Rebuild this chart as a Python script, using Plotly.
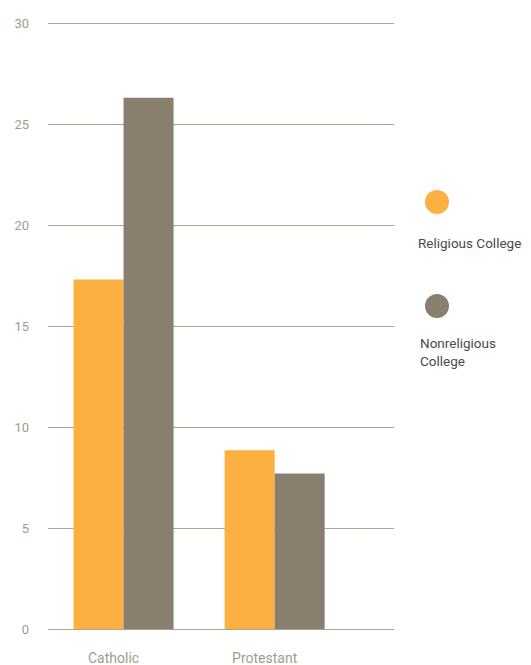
import plotly.graph_objects as go

categories = ["Catholic", "Protestant"]
religious = [17.3, 8.85]
nonreligious = [26.3, 7.7]
y_ticks = [0, 5, 10, 15, 20, 25, 30]

ORANGE = "#FBB040"
GRAY = "#887F6E"
TICK = "#A39B8E"
GRID = "#ABA394"
TEXT = "#4A4A4A"
FONT = "Roboto, Open Sans, sans-serif"

# page has an 8px body margin: figure starts at (8, 8)
OFF = 8
W, H = 531 - OFF, 665 - OFF
PLOT_L, PLOT_R = 48, 394          # page px
Y0_PX, Y30_PX = 629, 23           # page px of y=0 and y=30
YMAX = 30.5
per = (Y0_PX - Y30_PX) / 30.0
PLOT_T = Y0_PX - YMAX * per

fig = go.Figure()
fig.add_trace(go.Bar(x=categories, y=religious, name="Religious College",
                     marker=dict(color=ORANGE, line=dict(width=0))))
fig.add_trace(go.Bar(x=categories, y=nonreligious, name="Nonreligious College",
                     marker=dict(color=GRAY, line=dict(width=0))))

fig.update_layout(
    width=W, height=H,
    margin=dict(l=PLOT_L - OFF, r=531 - PLOT_R, t=PLOT_T - OFF, b=665 - Y0_PX, autoexpand=False),
    paper_bgcolor="white", plot_bgcolor="white",
    barmode="group", bargap=0.338, bargroupgap=0,
    showlegend=False,
    font=dict(family=FONT, size=13, color=TICK),
)
fig.update_xaxes(range=[-0.5, 1.79], showgrid=False, zeroline=False, showline=False,
                 automargin=False, ticks="", tickfont=dict(size=14, color=TICK),
                 ticklabelstandoff=19, ticklabelshift=-10)
fig.update_yaxes(range=[0, YMAX], tickvals=y_ticks, showgrid=True, gridcolor=GRID, gridwidth=1,
                 zeroline=True, zerolinecolor=GRID, zerolinewidth=1, showline=False,
                 automargin=False, ticks="", tickfont=dict(size=13, color=TICK),
                 ticklabelstandoff=18)

# Legend as shapes + annotations (page pixel positions)
legend = [
    (ORANGE, 437, 202, "Religious College", 416, 243),
    (GRAY, 437, 306, "Nonreligious<br>College", 418, 351.5),
]
def xp(px):
    return (px - PLOT_L) / (PLOT_R - PLOT_L)
def yp(py):
    return (Y0_PX - py) / (Y0_PX - PLOT_T)
for color, cx, cy, label, tx, ty in legend:
    fig.add_shape(type="circle", xref="paper", yref="paper",
                  xsizemode="pixel", ysizemode="pixel",
                  xanchor=xp(cx), yanchor=yp(cy),
                  x0=-12, x1=12, y0=-12, y1=12,
                  fillcolor=color, line=dict(width=0))
    fig.add_annotation(text=label, xref="paper", yref="paper",
                       x=xp(tx), y=yp(ty), xanchor="left", yanchor="middle",
                       showarrow=False, align="left",
                       font=dict(family=FONT, size=13.5, color=TEXT))

fig.write_html("out.html")
